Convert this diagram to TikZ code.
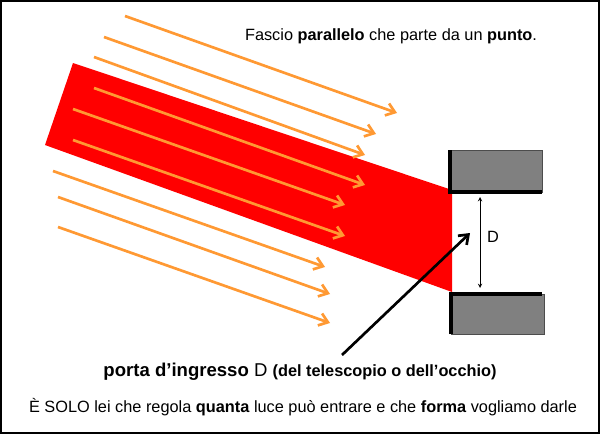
\documentclass[tikz,border=0pt]{standalone}
\usepackage{fontspec}
\setmainfont{Liberation Sans}
\usetikzlibrary{arrows.meta}

\definecolor{raggio}{RGB}{255,153,51}
\definecolor{fascio}{RGB}{255,0,0}
\definecolor{blocco}{RGB}{128,128,128}

\begin{document}
\begin{tikzpicture}[x=0.025cm,y=-0.025cm]
%stili
\tikzstyle{testo}=[inner sep=0pt, text=black, font=\fontsize{11.6}{14}\selectfont]
\tikzstyle{raggio}=[-{Straight Barb[length=6pt,width=9pt]}, draw=raggio, line width=1.9pt]
\tikzstyle{freccia}=[-{Straight Barb[length=6pt,width=9pt]}, draw=black, line width=1.9pt]
\tikzstyle{bordo}=[line width=3pt, draw=black]
%figura
\useasboundingbox (0,0) rectangle (600,434);
\draw[line width=2pt] (1,1) rectangle (599,433);

%fascio rosso
\fill[fascio] (73,63) -- (452,190) -- (452,292) -- (45,145) -- cycle;

%raggi
\coordinate (s1) at (125,16);  \coordinate (t1) at (397,113);
\coordinate (s2) at (104,37);  \coordinate (t2) at (376,134);
\coordinate (s3) at (94,57);   \coordinate (t3) at (365,155);
\coordinate (s4) at (94,88);   \coordinate (t4) at (365,185);
\coordinate (s5) at (73,109);  \coordinate (t5) at (345,205);
\coordinate (s6) at (73,140);  \coordinate (t6) at (345,236);
\coordinate (s7) at (53,171);  \coordinate (t7) at (325,267);
\coordinate (s8) at (58,197);  \coordinate (t8) at (330,294);
\coordinate (s9) at (58,227);  \coordinate (t9) at (330,323);

\draw[raggio] (s1) -- (t1);
\draw[raggio] (s2) -- (t2);
\draw[raggio] (s3) -- (t3);
\draw[raggio] (s4) -- (t4);
\draw[raggio] (s5) -- (t5);
\draw[raggio] (s6) -- (t6);
\draw[raggio] (s7) -- (t7);
\draw[raggio] (s8) -- (t8);
\draw[raggio] (s9) -- (t9);

%blocchi della porta
\filldraw[fill=blocco, draw=black!70, thin] (449,150) rectangle (542,192);
\draw[bordo] (450,150) -- (450,192) -- (542,192);
\filldraw[fill=blocco, draw=black!70, thin] (451,294) rectangle (544,334);
\draw[bordo] (451,334) -- (451,294) -- (542,294);

%diametro
\coordinate (Dsu) at (480,197);
\coordinate (Dgiu) at (480,288);
\draw[stealth-stealth, thin] (Dsu) -- (Dgiu);
\node[testo] (D) at (493,237) {D};

%testi
\node[testo] (titolo) at (391,36) {Fascio \textbf{parallelo} che parte da un \textbf{punto}.};
\node[testo] (porta) at (300,372) {\fontsize{13.2}{15}\selectfont\textbf{porta d’ingresso} D \fontsize{11.6}{13}\selectfont\textbf{(del telescopio o dell’occhio)}};
\node[testo] (nota) at (303,407) {È SOLO lei che regola \textbf{quanta} luce può entrare e che \textbf{forma} vogliamo darle};

%freccia
\coordinate (punta) at (470,233);
\coordinate (coda) at (342,355);
\draw[freccia] (coda) -- (punta);
\end{tikzpicture}
\end{document}
